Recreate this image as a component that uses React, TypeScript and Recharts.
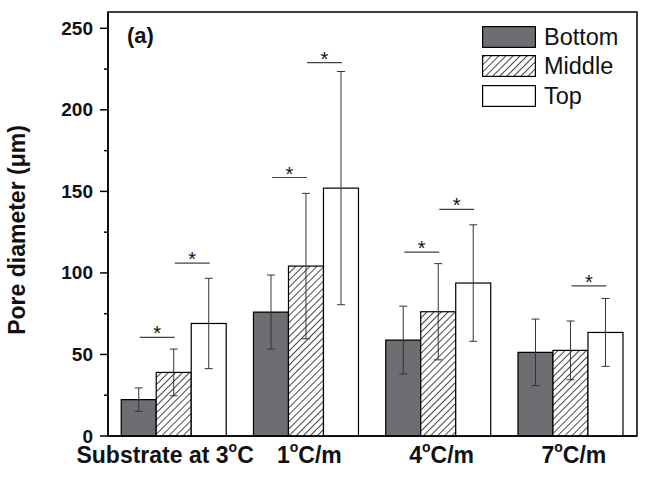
import React from "react";
import { BarChart, Bar, XAxis, YAxis, ErrorBar, Legend, ReferenceArea, Label } from "recharts";

const FONT = '"Liberation Sans", Arial, Helvetica, sans-serif';

// groups along the x axis
const categories = ["Substrate at 3°C", "1°C/m", "4°C/m", "7°C/m"];

// mean pore diameter (µm) and ± error
const bottomVals = [22.3, 76, 58.8, 51.3];
const bottomErr = [7.2, 22.7, 20.8, 20.4];
const middleVals = [39, 104.2, 76.2, 52.5];
const middleErr = [14.3, 44.6, 29.5, 18];
const topVals = [69, 152, 93.8, 63.5];
const topErr = [27.7, 71.5, 35.7, 20.8];

// height of the "*" significance bars
const sigBottomMiddle: (number | null)[] = [60.5, 158.5, 112.7, null];
const sigMiddleTop: (number | null)[] = [106, 229, 139, 92];

const yTicks = [0, 25, 50, 75, 100, 125, 150, 175, 200, 225, 250];
const yMax = 260;

const data = categories.map((name, i) => ({
  name,
  bottom: bottomVals[i],
  bottomErr: bottomErr[i],
  middle: middleVals[i],
  middleErr: middleErr[i],
  top: topVals[i],
  topErr: topErr[i],
  sigBM: sigBottomMiddle[i],
  sigMT: sigMiddleTop[i],
}));

function YTick(props: any) {
  const { x, y, payload } = props;
  const major = payload.value % 50 === 0;
  const axisX = x + 14;
  return (
    <g>
      <line x1={axisX - (major ? 8 : 4)} x2={axisX} y1={y} y2={y} stroke="#000" strokeWidth={1.5} />
      {major ? (
        <text x={x - 1} y={y} dy={6.5} textAnchor="end" fontFamily={FONT} fontWeight="bold" fontSize={19} fill="#111">
          {payload.value}
        </text>
      ) : null}
    </g>
  );
}

function XTick(props: any) {
  const { x, y, payload, index } = props;
  const [pre, post] = String(payload.value).split("°");
  return (
    <text
      x={x}
      y={y}
      dx={index === 0 ? -9 : 3}
      dy={23}
      textAnchor="middle"
      fontFamily={FONT}
      fontWeight="bold"
      fontSize={23}
      fill="#111"
    >
      {pre}
      <tspan fontSize={14} dy={-11}>o</tspan>
      <tspan dy={11}>{post}</tspan>
    </text>
  );
}

function sigShape(key: string, sigKey: string) {
  return (props: any) => {
    const { x, y, width, height, payload, fill } = props;
    const v = payload[key];
    const sig = payload[sigKey];
    let bracket = null;
    if (sig != null && v) {
      const ly = y + height - (sig * height) / v;
      const x1 = x - width / 2 + 1;
      const x2 = x + width / 2 + 1;
      bracket = (
        <g>
          <line x1={x1} x2={x2} y1={ly} y2={ly} stroke="#444" strokeWidth={1.2} />
          <text x={(x1 + x2) / 2} y={ly} dy={3} textAnchor="middle" fontFamily={FONT} fontSize={20} fill="#111">
            *
          </text>
        </g>
      );
    }
    return (
      <g>
        <rect x={x} y={y} width={width} height={height} fill={fill} stroke="#000" strokeWidth={1.2} />
        {bracket}
      </g>
    );
  };
}

function Swatch({ fill }: { fill: string }) {
  return (
    <svg width={54} height={22} style={{ display: "block" }}>
      <defs>
        <pattern id="hatchLegend" width="5" height="5" patternUnits="userSpaceOnUse" patternTransform="rotate(45)">
          <rect width="5" height="5" fill="#fff" />
          <line x1="2.5" y1="0" x2="2.5" y2="5" stroke="#333" strokeWidth="0.9" />
        </pattern>
      </defs>
      <rect x={0.6} y={0.6} width={52.8} height={20.8} fill={fill} stroke="#000" strokeWidth={1.2} />
    </svg>
  );
}

function LegendBox() {
  const items = [
    { label: "Bottom", fill: "#6e6e72" },
    { label: "Middle", fill: "url(#hatchLegend)" },
    { label: "Top", fill: "#fff" },
  ];
  return (
    <div style={{ fontFamily: FONT, fontSize: 23.5, color: "#111" }}>
      {items.map((it) => (
        <div key={it.label} style={{ display: "flex", alignItems: "center", height: 29.5 }}>
          <Swatch fill={it.fill} />
          <span style={{ marginLeft: 8, lineHeight: "22px" }}>{it.label}</span>
        </div>
      ))}
    </div>
  );
}

export default function App() {
  return (
    <div style={{ position: "absolute", left: 0, top: 0, width: 649, height: 478, background: "#fff" }}>
      <BarChart
        width={649}
        height={478}
        data={data}
        margin={{ top: 12, right: 12, bottom: 0, left: 0 }}
        barCategoryGap="10%"
        barGap={0}
      >
        <defs>
          <pattern id="hatch" width="5" height="5" patternUnits="userSpaceOnUse" patternTransform="rotate(45)">
            <rect width="5" height="5" fill="#fff" />
            <line x1="2.5" y1="0" x2="2.5" y2="5" stroke="#333" strokeWidth="0.9" />
          </pattern>
        </defs>
        <XAxis
          dataKey="name"
          interval={0}
          tickLine={false}
          tickSize={0}
          tickMargin={4}
          height={42}
          axisLine={{ stroke: "#000", strokeWidth: 1.5 }}
          tick={<XTick />}
        />
        <YAxis
          domain={[0, yMax]}
          ticks={yTicks}
          interval={0}
          width={108}
          tickLine={false}
          tickSize={8}
          tickMargin={6}
          axisLine={{ stroke: "#000", strokeWidth: 1.5 }}
          tick={<YTick />}
        >
          <Label
            content={() => (
              <text
                x={25}
                y={230}
                transform="rotate(-90 25 230)"
                textAnchor="middle"
                fontFamily={FONT}
                fontWeight="bold"
                fontSize={23}
                fill="#111"
              >
                Pore diameter (μm)
              </text>
            )}
          />
        </YAxis>
        <ReferenceArea y1={0} y2={yMax} fill="none" stroke="#000" strokeWidth={1.5}>
          <Label
            content={(p: any) => (
              <text
                x={p.viewBox.x + 19}
                y={p.viewBox.y + 31}
                fontFamily={FONT}
                fontWeight="bold"
                fontSize={22}
                fill="#111"
              >
                (a)
              </text>
            )}
          />
        </ReferenceArea>
        <Legend
          layout="vertical"
          align="center"
          verticalAlign="middle"
          wrapperStyle={{ top: 22, left: 482, width: 150 }}
          content={() => <LegendBox />}
        />
        <Bar dataKey="bottom" fill="#6e6e72" stroke="#000" strokeWidth={1.2} isAnimationActive={false}>
          <ErrorBar dataKey="bottomErr" width={4} stroke="#333" strokeWidth={1} />
        </Bar>
        <Bar dataKey="middle" fill="url(#hatch)" shape={sigShape("middle", "sigBM")} isAnimationActive={false}>
          <ErrorBar dataKey="middleErr" width={4} stroke="#333" strokeWidth={1} />
        </Bar>
        <Bar dataKey="top" fill="#fff" shape={sigShape("top", "sigMT")} isAnimationActive={false}>
          <ErrorBar dataKey="topErr" width={4} stroke="#333" strokeWidth={1} />
        </Bar>
      </BarChart>
    </div>
  );
}
